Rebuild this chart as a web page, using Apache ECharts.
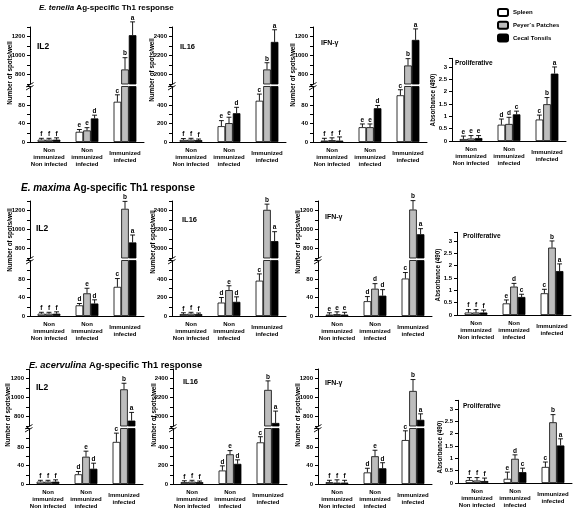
<!DOCTYPE html>
<html><head><meta charset="utf-8">
<script src="https://cdn.jsdelivr.net/npm/echarts@6/dist/echarts.min.js"></script>
<style>html,body{margin:0;padding:0;background:#fff}#c{width:576px;height:515px}</style>
</head><body><div id="c"></div>
<script>
const FONT = '"Liberation Sans", Arial, Helvetica, sans-serif';

const groups = ['Non\nimmunized\nNon infected', 'Non\nimmunized\ninfected', 'Immunized\ninfected'];
const tissues = ['Spleen', 'Peyer´s Patches', 'Cecal Tonsils'];
const tissueColors = ['#ffffff', '#bdbdbd', '#000000'];

const spotsLowTicks = [0, 40, 80];
const spotsHighTicks = [800, 1000, 1200];
const il16LowTicks = [0, 200, 400];
const il16HighTicks = [2000, 2200, 2400];
const prolifTicks = [0, 0.5, 1, 1.5, 2, 2.5, 3];

// E. tenella  (rows: Spleen, Peyer's Patches, Cecal Tonsils; columns: groups)
const tenellaIL2Values = [[5, 22, 87], [5, 25, 853], [5, 51, 1214]];
const tenellaIL2Errors = [[3, 5, 15], [3, 6, 124], [4, 7, 140]];
const tenellaIL2Letters = [['f', 'e', 'c'], ['f', 'e', 'b'], ['f', 'd', 'a']];
const tenellaIL16Values = [[22, 171, 446], [25, 204, 2053], [20, 311, 2343]];
const tenellaIL16Errors = [[15, 60, 72], [15, 64, 71], [12, 64, 128]];
const tenellaIL16Letters = [['f', 'e', 'c'], ['f', 'e', 'b'], ['f', 'd', 'a']];
const tenellaIFNValues = [[3, 32, 101], [4, 32, 895], [3, 73, 1164]];
const tenellaIFNErrors = [[5, 7, 12], [5, 7, 72], [8, 6, 116]];
const tenellaIFNLetters = [['f', 'e', 'c'], ['f', 'e', 'b'], ['f', 'd', 'a']];
const tenellaProlifValues = [[0.08, 0.66, 0.87], [0.1, 0.69, 1.49], [0.12, 1.08, 2.73]];
const tenellaProlifErrors = [[0.12, 0.23, 0.18], [0.12, 0.27, 0.27], [0.1, 0.13, 0.27]];
const tenellaProlifLetters = [['e', 'd', 'c'], ['e', 'd', 'b'], ['e', 'c', 'a']];

// E. maxima
const maximaIL2Values = [[5, 23, 63], [5, 49, 1218], [5, 27, 864]];
const maximaIL2Errors = [[3, 4, 18], [3, 11, 78], [4, 8, 78]];
const maximaIL2Letters = [['f', 'd', 'c'], ['f', 'e', 'b'], ['f', 'd', 'a']];
const maximaIL16Values = [[20, 145, 382], [25, 280, 2407], [20, 153, 2078]];
const maximaIL16Errors = [[15, 55, 73], [15, 47, 60], [12, 54, 99]];
const maximaIL16Letters = [['f', 'd', 'c'], ['f', 'e', 'b'], ['f', 'd', 'a']];
const maximaIFNValues = [[3, 32, 81], [4, 59, 1210], [3, 44, 950]];
const maximaIFNErrors = [[4, 10, 13], [5, 11, 94], [5, 13, 59]];
const maximaIFNLetters = [['e', 'd', 'c'], ['e', 'd', 'b'], ['e', 'd', 'a']];
const maximaProlifValues = [[0.1, 0.47, 0.88], [0.1, 1.15, 2.73], [0.1, 0.73, 1.78]];
const maximaProlifErrors = [[0.12, 0.14, 0.16], [0.12, 0.13, 0.27], [0.1, 0.11, 0.29]];
const maximaProlifLetters = [['f', 'e', 'c'], ['f', 'd', 'b'], ['f', 'c', 'a']];

// E. acervulina
const acervulinaIL2Values = [[5, 21, 91], [5, 59, 1086], [5, 33, 757]];
const acervulinaIL2Errors = [[3, 6, 19], [3, 12, 64], [4, 12, 86]];
const acervulinaIL2Letters = [['f', 'd', 'c'], ['f', 'e', 'b'], ['f', 'd', 'a']];
const acervulinaIL16Values = [[20, 146, 450], [25, 321, 2280], [20, 218, 1932]];
const acervulinaIL16Errors = [[15, 50, 61], [15, 40, 95], [12, 43, 125]];
const acervulinaIL16Letters = [['f', 'd', 'c'], ['f', 'e', 'b'], ['f', 'd', 'a']];
const acervulinaIFNValues = [[4, 25, 95], [3, 60, 1069], [3, 34, 765]];
const acervulinaIFNErrors = [[4, 9, 20], [6, 13, 120], [5, 12, 63]];
const acervulinaIFNLetters = [['f', 'd', 'c'], ['f', 'e', 'b'], ['f', 'd', 'a']];
const acervulinaProlifValues = [[0.12, 0.17, 0.65], [0.1, 0.98, 2.46], [0.08, 0.44, 1.52]];
const acervulinaProlifErrors = [[0.1, 0.27, 0.2], [0.12, 0.16, 0.31], [0.12, 0.16, 0.27]];
const acervulinaProlifLetters = [['f', 'e', 'c'], ['f', 'd', 'b'], ['f', 'c', 'a']];

const rowTitles = [
  ['E. tenella', ' Ag-specific Th1 response'],
  ['E. maxima', ' Ag-specific Th1 response'],
  ['E. acervulina', ' Ag-specific Th1 response']
];

// ---- layout ----
const rowDy = [0, 174, 342];
const colX = [[30, 172, 313, 452], [30, 172, 318, 457], [29, 173, 318, 458]];
const plotW = 114;
const titlePos = [[39, 7.5, 8], [21, 188, 10], [29, 365, 9.3]];
const panelLabelPos = [
  [[37, 47], [180, 47], [321, 43], [455, 63]],
  [[36, 229], [182, 220], [325, 217], [463, 236]],
  [[36, 388], [183, 382], [325, 383], [463, 406]]
];
const yNamePos = [
  [[10, 73], [152, 70], [293, 75], [433, 100]],
  [[10, 240], [153, 242], [298, 242], [438, 275]],
  [[8, 415], [154, 415], [298, 415], [440, 447]]
];

const kinds = {
  spots: { broken: true, low: [0, 120, 20], high: [700, 1300, 100], lowTicks: spotsLowTicks, highTicks: spotsHighTicks, yName: 'Number of spots/well' },
  il16: { broken: true, low: [0, 600, 100], high: [1900, 2500, 100], lowTicks: il16LowTicks, highTicks: il16HighTicks, yName: 'Number of spots/well' },
  prolif: { broken: false, range: [0, 3.35, 0.5], ticks: prolifTicks, yName: 'Absorbance (490)' }
};
const labelSizes = { 'IL2': 8.5, 'IL16': 7.5, 'IFN-γ': 7, 'Proliferative': 6.5 };

const panels = [
  { row: 0, col: 0, kind: 'spots', label: 'IL2', v: tenellaIL2Values, e: tenellaIL2Errors, l: tenellaIL2Letters },
  { row: 0, col: 1, kind: 'il16', label: 'IL16', v: tenellaIL16Values, e: tenellaIL16Errors, l: tenellaIL16Letters },
  { row: 0, col: 2, kind: 'spots', label: 'IFN-γ', v: tenellaIFNValues, e: tenellaIFNErrors, l: tenellaIFNLetters },
  { row: 0, col: 3, kind: 'prolif', label: 'Proliferative', v: tenellaProlifValues, e: tenellaProlifErrors, l: tenellaProlifLetters },
  { row: 1, col: 0, kind: 'spots', label: 'IL2', v: maximaIL2Values, e: maximaIL2Errors, l: maximaIL2Letters },
  { row: 1, col: 1, kind: 'il16', label: 'IL16', v: maximaIL16Values, e: maximaIL16Errors, l: maximaIL16Letters },
  { row: 1, col: 2, kind: 'spots', label: 'IFN-γ', v: maximaIFNValues, e: maximaIFNErrors, l: maximaIFNLetters },
  { row: 1, col: 3, kind: 'prolif', label: 'Proliferative', v: maximaProlifValues, e: maximaProlifErrors, l: maximaProlifLetters },
  { row: 2, col: 0, kind: 'spots', label: 'IL2', v: acervulinaIL2Values, e: acervulinaIL2Errors, l: acervulinaIL2Letters },
  { row: 2, col: 1, kind: 'il16', label: 'IL16', v: acervulinaIL16Values, e: acervulinaIL16Errors, l: acervulinaIL16Letters },
  { row: 2, col: 2, kind: 'spots', label: 'IFN-γ', v: acervulinaIFNValues, e: acervulinaIFNErrors, l: acervulinaIFNLetters },
  { row: 2, col: 3, kind: 'prolif', label: 'Proliferative', v: acervulinaProlifValues, e: acervulinaProlifErrors, l: acervulinaProlifLetters }
];

const option = {
  animation: false,
  backgroundColor: '#fff',
  textStyle: { fontFamily: FONT },
  grid: [], xAxis: [], yAxis: [], series: [], graphic: [],
  legend: {
    left: 497, top: 8, orient: 'vertical', padding: 0,
    itemWidth: 10, itemHeight: 7, itemGap: 3.7, selectedMode: false,
    data: tissues,
    textStyle: { fontSize: 6, fontWeight: 'bold', color: '#000', fontFamily: FONT }
  }
};

function isTick(list, v) { return list.some(t => Math.abs(t - v) < 1e-9); }

function addAxes(left, top, height, range, tickList, showX) {
  const gi = option.grid.length;
  option.grid.push({ left: left, top: top, width: plotW, height: height });
  option.xAxis.push({
    type: 'category', gridIndex: gi, data: groups, show: showX,
    axisLine: { lineStyle: { color: '#000', width: 1 } },
    axisTick: { length: 3, lineStyle: { color: '#000' } },
    axisLabel: { interval: 0, fontSize: 6, fontWeight: 'bold', color: '#000', lineHeight: 7, verticalAlign: 'middle', margin: 15, fontFamily: FONT }
  });
  option.yAxis.push({
    type: 'value', gridIndex: gi, min: range[0], max: range[1], interval: range[2],
    splitLine: { show: false },
    axisLine: { show: true, lineStyle: { color: '#000', width: 1 } },
    axisTick: { show: true, length: 3, lineStyle: { color: '#000' } },
    axisLabel: { fontSize: 6, fontWeight: 'bold', color: '#000', margin: 5, fontFamily: FONT,
      formatter: v => isTick(tickList, v) ? String(v) : '' }
  });
  return gi;
}

function makeErrRender(letters) {
  return function (params, api) {
    const g = api.value(0), v = api.value(1), e = api.value(2), t = api.value(3);
    const base = api.coord([g, v]);
    const top = api.coord([g, v + e]);
    const band = api.size([1, 0])[0];
    const bw = band * 0.6 / 3;
    const x = base[0] + (t - 1) * bw;
    const half = bw * 0.32;
    return {
      type: 'group',
      children: [
        { type: 'line', shape: { x1: x, y1: base[1], x2: x, y2: top[1] }, style: { stroke: '#000', lineWidth: 0.9 } },
        { type: 'line', shape: { x1: x - half, y1: top[1], x2: x + half, y2: top[1] }, style: { stroke: '#000', lineWidth: 0.9 } },
        { type: 'text', x: x, y: top[1] - 0.5,
          style: { text: letters[t][g], fontSize: 6.5, fontWeight: 'bold', fontFamily: FONT, fill: '#000',
            align: 'center', verticalAlign: 'bottom', textAlign: 'center', textVerticalAlign: 'bottom' } }
      ]
    };
  };
}

function addSeries(gi, p, keepBar, keepErr) {
  tissues.forEach((name, t) => {
    option.series.push({
      type: 'bar', name: name, xAxisIndex: gi, yAxisIndex: gi,
      barGap: '0%', barCategoryGap: '40%', clip: true, silent: true,
      itemStyle: { color: tissueColors[t], borderColor: '#000', borderWidth: 0.8 },
      data: p.v[t].map(v => keepBar(v) ? v : '-')
    });
  });
  const errData = [];
  tissues.forEach((_, t) => p.v[t].forEach((v, g) => { if (keepErr(v)) errData.push([g, v, p.e[t][g], t]); }));
  option.series.push({
    type: 'custom', xAxisIndex: gi, yAxisIndex: gi, silent: true, z: 5,
    renderItem: makeErrRender(p.l), encode: { x: 0, y: 1 }, data: errData
  });
}

panels.forEach(p => {
  const k = kinds[p.kind];
  const dy = rowDy[p.row];
  const x0 = colX[p.row][p.col];
  if (k.broken) {
    const gu = addAxes(x0, dy + 27, 57, k.high, k.highTicks, false);
    addSeries(gu, p, v => v > k.low[1], v => v > k.low[1]);
    const gl = addAxes(x0, dy + 86.5, 55.5, k.low, k.lowTicks, true);
    addSeries(gl, p, v => true, v => v <= k.low[1]);
    // axis break marks
    [0, 3].forEach(off => option.graphic.push({
      type: 'line', silent: true, z: 100,
      shape: { x1: x0 - 4, y1: dy + 87 + off, x2: x0 + 3.5, y2: dy + 82.5 + off },
      style: { stroke: '#000', lineWidth: 0.9 }
    }));
  } else {
    const bottom = dy + 141;
    const h = 82.7;
    const g = addAxes(x0, bottom - h, h, k.range, k.ticks, true);
    addSeries(g, p, v => true, v => true);
  }
  const lp = panelLabelPos[p.row][p.col];
  option.graphic.push({
    type: 'text', x: lp[0], y: lp[1], silent: true,
    style: { text: p.label, fontSize: labelSizes[p.label], fontWeight: 'bold', fontFamily: FONT, fill: '#000',
      align: 'left', verticalAlign: 'middle', textAlign: 'left', textVerticalAlign: 'middle' }
  });
  const np = yNamePos[p.row][p.col];
  option.graphic.push({
    type: 'text', x: np[0], y: np[1], rotation: Math.PI / 2, silent: true,
    style: { text: k.yName, fontSize: 6.3, fontWeight: 'bold', fontFamily: FONT, fill: '#000',
      align: 'center', verticalAlign: 'middle', textAlign: 'center', textVerticalAlign: 'middle' }
  });
});

rowTitles.forEach((tt, r) => {
  const tp = titlePos[r];
  option.graphic.push({
    type: 'text', x: tp[0], y: tp[1], silent: true,
    style: {
      text: '{i|' + tt[0] + '}' + tt[1],
      fontSize: tp[2], fontWeight: 'bold', fontFamily: FONT, fill: '#000',
      align: 'left', verticalAlign: 'middle', textAlign: 'left', textVerticalAlign: 'middle',
      rich: { i: { fontStyle: 'italic', fontWeight: 'bold', fontSize: tp[2], fontFamily: FONT, fill: '#000', color: '#000' } }
    }
  });
});

const chart = echarts.init(document.getElementById('c'), null, { renderer: 'canvas' });
chart.setOption(option);
</script>
</body></html>
